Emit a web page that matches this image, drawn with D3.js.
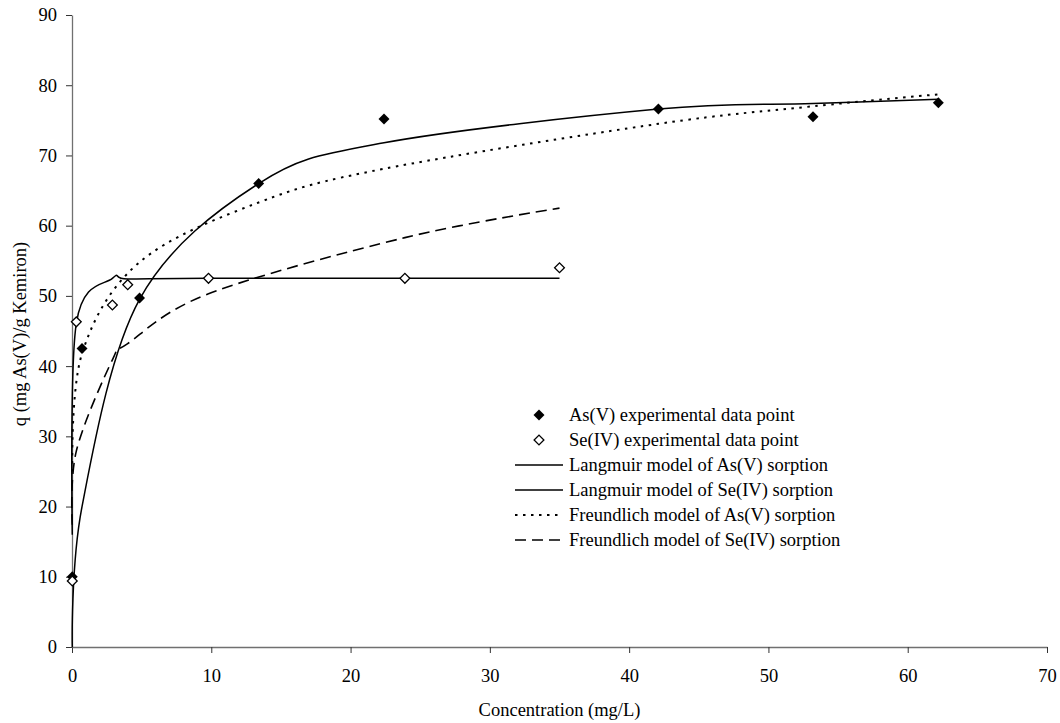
<!DOCTYPE html>
<html>
<head>
<meta charset="utf-8">
<script src="https://cdn.jsdelivr.net/npm/d3@7"></script>
<style>
  body { margin: 0; background: #fff; }
  svg text { font-family: "Liberation Serif", "Times New Roman", serif; fill: #000; }
</style>
</head>
<body>
<div id="viz"></div>
<script>
// experimental points
var asConc = [0.02, 0.72, 4.85, 13.4, 22.4, 42.1, 53.2, 62.2],
    asQ    = [10.0, 42.5, 49.7, 66.0, 75.2, 76.6, 75.5, 77.5],
    seConc = [0.02, 0.31, 2.9, 4.0, 9.8, 23.9, 35.0],
    seQ    = [9.4, 46.3, 48.7, 51.6, 52.5, 52.5, 54.0];

// model values at the experimental concentrations
var langAs = [0.0, 20.0, 49.5, 66.0, 71.8, 76.6, 77.4, 78.0],
    langSe = [16.0, 46.1, 52.5, 52.4, 52.5, 52.5, 52.5],
    freuAs = [25.0, 41.8, 54.8, 63.3, 68.1, 74.5, 77.0, 78.7],
    freuSe = [17.4, 27.9, 40.9, 43.2, 50.3, 58.3, 62.5];

var xTicks = [0, 10, 20, 30, 40, 50, 60, 70],
    yTicks = [0, 10, 20, 30, 40, 50, 60, 70, 80, 90];

var legendLabels = [
  "As(V) experimental data point",
  "Se(IV) experimental data point",
  "Langmuir model of As(V) sorption",
  "Langmuir model of Se(IV) sorption",
  "Freundlich model of As(V) sorption",
  "Freundlich model of Se(IV) sorption"
];

var width = 1060, height = 723,
    margin = { top: 15, right: 13, bottom: 76, left: 72 },
    fontSize = '18.5px';

var svg = d3.select('#viz').append('svg')
  .attr('width', width)
  .attr('height', height);

var xScale = d3.scaleLinear()
  .domain([0, 70])
  .range([margin.left, width - margin.right]);

var yScale = d3.scaleLinear()
  .domain([0, 90])
  .range([height - margin.bottom, margin.top]);

// axes
var xAxis = d3.axisBottom(xScale).tickValues(xTicks).tickSizeInner(6).tickSizeOuter(0).tickPadding(16);
var yAxis = d3.axisLeft(yScale).tickValues(yTicks).tickSizeInner(6).tickSizeOuter(0).tickPadding(9);

var xGuide = svg.append('g')
  .attr('transform', 'translate(0,' + (height - margin.bottom) + ')')
  .call(xAxis);
var yGuide = svg.append('g')
  .attr('transform', 'translate(' + margin.left + ',0)')
  .call(yAxis);

[xGuide, yGuide].forEach(function(g) {
  g.select('.domain').attr('stroke', '#707070').attr('stroke-width', 1.3);
  g.selectAll('.tick line').attr('stroke', '#333').attr('stroke-width', 1);
  g.selectAll('.tick text')
    .style('font-family', '"Liberation Serif", serif')
    .style('font-size', fontSize)
    .attr('fill', '#000');
});

svg.append('text')
  .attr('x', (xScale(0) + xScale(70)) / 2)
  .attr('y', 716)
  .attr('text-anchor', 'middle')
  .style('font-size', fontSize)
  .text('Concentration (mg/L)');

svg.append('text')
  .attr('transform', 'translate(26,' + ((yScale(0) + yScale(90)) / 2 + 3) + ') rotate(-90)')
  .attr('text-anchor', 'middle')
  .style('font-size', fontSize)
  .text('q (mg As(V)/g Kemiron)');

// model curves
function pairs(xs, ys) {
  return xs.map(function(c, i) { return [c, ys[i]]; });
}

var line = d3.line()
  .x(function(d) { return xScale(d[0]); })
  .y(function(d) { return yScale(d[1]); })
  .curve(d3.curveCardinal);

var curves = [
  { data: pairs(asConc, langAs), dash: null, w: 1.5 },
  { data: pairs(seConc, langSe), dash: null, w: 1.5 },
  { data: pairs(asConc, freuAs), dash: '2.5,5.5', w: 2 },
  { data: pairs(seConc, freuSe), dash: '11,6', w: 1.6 }
];

svg.append('g').selectAll('path')
  .data(curves)
  .enter().append('path')
    .attr('d', function(d) { return line(d.data); })
    .attr('fill', 'none')
    .attr('stroke', '#000')
    .attr('stroke-width', function(d) { return d.w; })
    .attr('stroke-dasharray', function(d) { return d.dash; });

// experimental points
var diamond = d3.symbol().type(d3.symbolSquare).size(60),
    openDiamond = d3.symbol().type(d3.symbolSquare).size(48);

svg.append('g').selectAll('path')
  .data(pairs(asConc, asQ))
  .enter().append('path')
    .attr('d', diamond)
    .attr('transform', function(d) {
      return 'translate(' + xScale(d[0]) + ',' + yScale(d[1]) + ') rotate(45)';
    })
    .attr('fill', '#000');

svg.append('g').selectAll('path')
  .data(pairs(seConc, seQ))
  .enter().append('path')
    .attr('d', openDiamond)
    .attr('transform', function(d) {
      return 'translate(' + xScale(d[0]) + ',' + yScale(d[1]) + ') rotate(45)';
    })
    .attr('fill', '#fff')
    .attr('stroke', '#000')
    .attr('stroke-width', 1.3);

// legend
var legend = svg.append('g').attr('transform', 'translate(515,415)');
var rowH = 25;

legend.selectAll('text')
  .data(legendLabels)
  .enter().append('text')
    .attr('x', 54)
    .attr('y', function(d, i) { return i * rowH + 6; })
    .style('font-size', fontSize)
    .text(function(d) { return d; });

legend.append('path')
  .attr('d', diamond)
  .attr('transform', 'translate(24,0) rotate(45)')
  .attr('fill', '#000');
legend.append('path')
  .attr('d', openDiamond)
  .attr('transform', 'translate(24,' + rowH + ') rotate(45)')
  .attr('fill', '#fff')
  .attr('stroke', '#000')
  .attr('stroke-width', 1.3);

legend.selectAll('line')
  .data(curves)
  .enter().append('line')
    .attr('x1', 0)
    .attr('x2', 48)
    .attr('y1', function(d, i) { return (i + 2) * rowH; })
    .attr('y2', function(d, i) { return (i + 2) * rowH; })
    .attr('stroke', '#000')
    .attr('stroke-width', function(d) { return d.w; })
    .attr('stroke-dasharray', function(d) { return d.dash; });
</script>
</body>
</html>
